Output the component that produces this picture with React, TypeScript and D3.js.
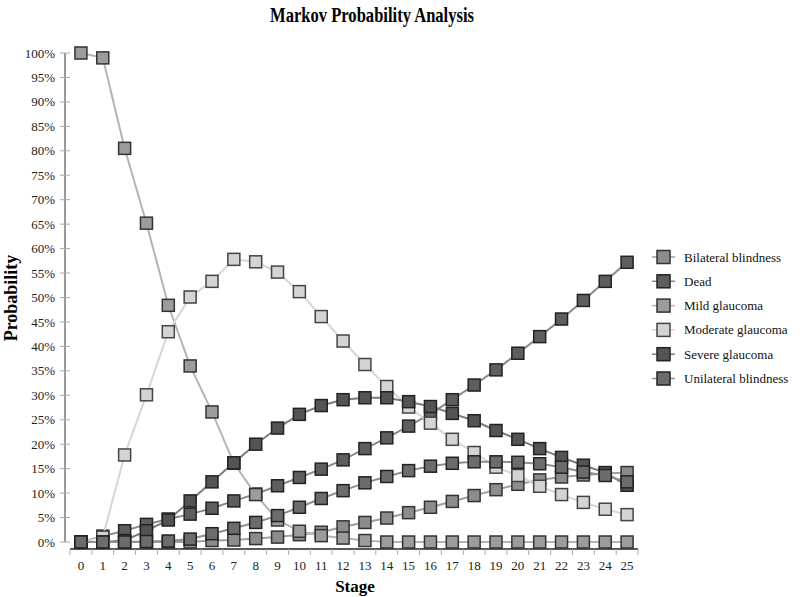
import React from "react";
import * as d3 from "d3";

const stages = d3.range(0, 26);
const seriesNames = [
  "Bilateral blindness",
  "Dead",
  "Mild glaucoma",
  "Moderate glaucoma",
  "Severe glaucoma",
  "Unilateral blindness",
];

const bilateral = [0, 0, 0, 0, 0, 0, 0.3, 0.4, 0.7, 1.0, 1.5, 2.0, 3.1, 4.0, 4.9, 6.0, 7.1, 8.3, 9.5, 10.7, 11.8, 12.7, 13.3, 13.7, 14.0, 14.2];
const dead = [0, 1.2, 2.3, 3.6, 4.7, 5.7, 6.9, 8.4, 9.8, 11.5, 13.2, 14.9, 16.8, 19.1, 21.3, 23.7, 26.2, 29.1, 32.1, 35.2, 38.6, 42.0, 45.6, 49.4, 53.3, 57.2];
const mild = [100, 99.0, 80.5, 65.2, 48.4, 36.0, 26.6, 16.1, 9.7, 4.5, 2.2, 1.3, 0.8, 0.3, 0, 0, 0, 0, 0, 0, 0, 0, 0, 0, 0, 0];
const moderate = [0, 1.0, 17.8, 30.1, 43.0, 50.1, 53.3, 57.8, 57.3, 55.2, 51.2, 46.1, 41.1, 36.3, 31.8, 27.6, 24.3, 21.0, 18.3, 15.3, 13.6, 11.4, 9.7, 8.1, 6.7, 5.6];
const severe = [0, 0, 0.3, 2.3, 4.5, 8.4, 12.3, 16.2, 20.0, 23.3, 26.1, 27.9, 29.1, 29.5, 29.5, 28.7, 27.7, 26.3, 24.8, 22.8, 21.0, 19.1, 17.3, 15.7, 14.2, 11.6];
const unilateral = [0, 0, 0, 0.1, 0.2, 0.6, 1.7, 2.8, 4.0, 5.4, 7.1, 8.9, 10.5, 12.1, 13.4, 14.6, 15.5, 16.1, 16.4, 16.4, 16.3, 16.0, 15.3, 14.3, 13.6, 12.3];

const yTicks = d3.range(0, 101, 5);

const fills = ["#8c8c8c", "#5e5e5e", "#9c9c9c", "#d4d4d4", "#545454", "#6c6c6c"];
const lineColors = ["#a0a0a0", "#8a8a8a", "#b4b4b4", "#d6d6d6", "#7c7c7c", "#8e8e8e"];
const strokes = ["#333", "#222", "#333", "#444", "#222", "#222"];

export default function App() {
  const W = 800, H = 597;
  const data = [bilateral, dead, mild, moderate, severe, unilateral];
  const x = d3.scaleBand<number>().domain(stages).range([70, 638]).padding(0);
  const bw = x.bandwidth();
  const cx = (s: number) => (x(s) as number) + bw / 2;
  const y = d3.scaleLinear().domain([0, 100]).range([542, 53]);
  const line = d3.line<number>().x((_, i) => cx(stages[i])).y((v) => y(v));
  const ms = 12;
  const font = "'Liberation Serif', 'Times New Roman', serif";
  const boundaries = d3.range(0, 27).map((i) => 70 + i * bw);

  return (
    <svg width={W} height={H} style={{ position: "absolute", left: 0, top: 0, background: "#fff" }} fontFamily={font}>
      <rect width={W} height={H} fill="#fff" />
      <text x={372} y={22} textAnchor="middle" fontSize={20} fontWeight="bold" textLength={204} lengthAdjust="spacingAndGlyphs">
        Markov Probability Analysis
      </text>
      {/* Y axis */}
      <line x1={65} x2={65} y1={y(100)} y2={y(0)} stroke="#777" strokeWidth={1.5} />
      {yTicks.map((t) => (
        <g key={t}>
          <line x1={60} x2={70} y1={y(t)} y2={y(t)} stroke="#aaa" strokeWidth={1} />
          <text x={55} y={y(t)} dy="0.35em" textAnchor="end" fontSize={13} fill="#222">
            {t}%
          </text>
        </g>
      ))}
      <text transform={`translate(17,298) rotate(-90)`} textAnchor="middle" fontSize={18} fontWeight="bold">
        Probability
      </text>
      {/* X axis */}
      <line x1={70} x2={638} y1={549} y2={549} stroke="#222" strokeWidth={1.5} />
      {boundaries.map((b, i) => (
        <line key={i} x1={b} x2={b} y1={549} y2={555} stroke="#aaa" strokeWidth={1} />
      ))}
      {stages.map((s) => (
        <text key={s} x={cx(s)} y={570} textAnchor="middle" fontSize={13} fill="#222">
          {s}
        </text>
      ))}
      <text x={355} y={592} textAnchor="middle" fontSize={17} fontWeight="bold">
        Stage
      </text>
      {/* Series */}
      {data.map((d, k) => (
        <g key={k}>
          <path d={line(d) as string} fill="none" stroke={lineColors[k]} strokeWidth={2} />
          {d.map((v, i) => (
            <rect
              key={i}
              x={cx(stages[i]) - ms / 2}
              y={y(v) - ms / 2}
              width={ms}
              height={ms}
              fill={fills[k]}
              stroke={strokes[k]}
              strokeWidth={1.5}
            />
          ))}
        </g>
      ))}
      {/* Legend */}
      {seriesNames.map((n, k) => {
        const ly = 257 + k * 24.3;
        return (
          <g key={n}>
            <line x1={652} x2={675} y1={ly} y2={ly} stroke={lineColors[k]} strokeWidth={1.5} />
            <rect x={657} y={ly - 6.5} width={13} height={13} fill={fills[k]} stroke={strokes[k]} strokeWidth={1.5} />
            <text x={684} y={ly} dy="0.35em" fontSize={13} fill="#111">
              {n}
            </text>
          </g>
        );
      })}
    </svg>
  );
}
